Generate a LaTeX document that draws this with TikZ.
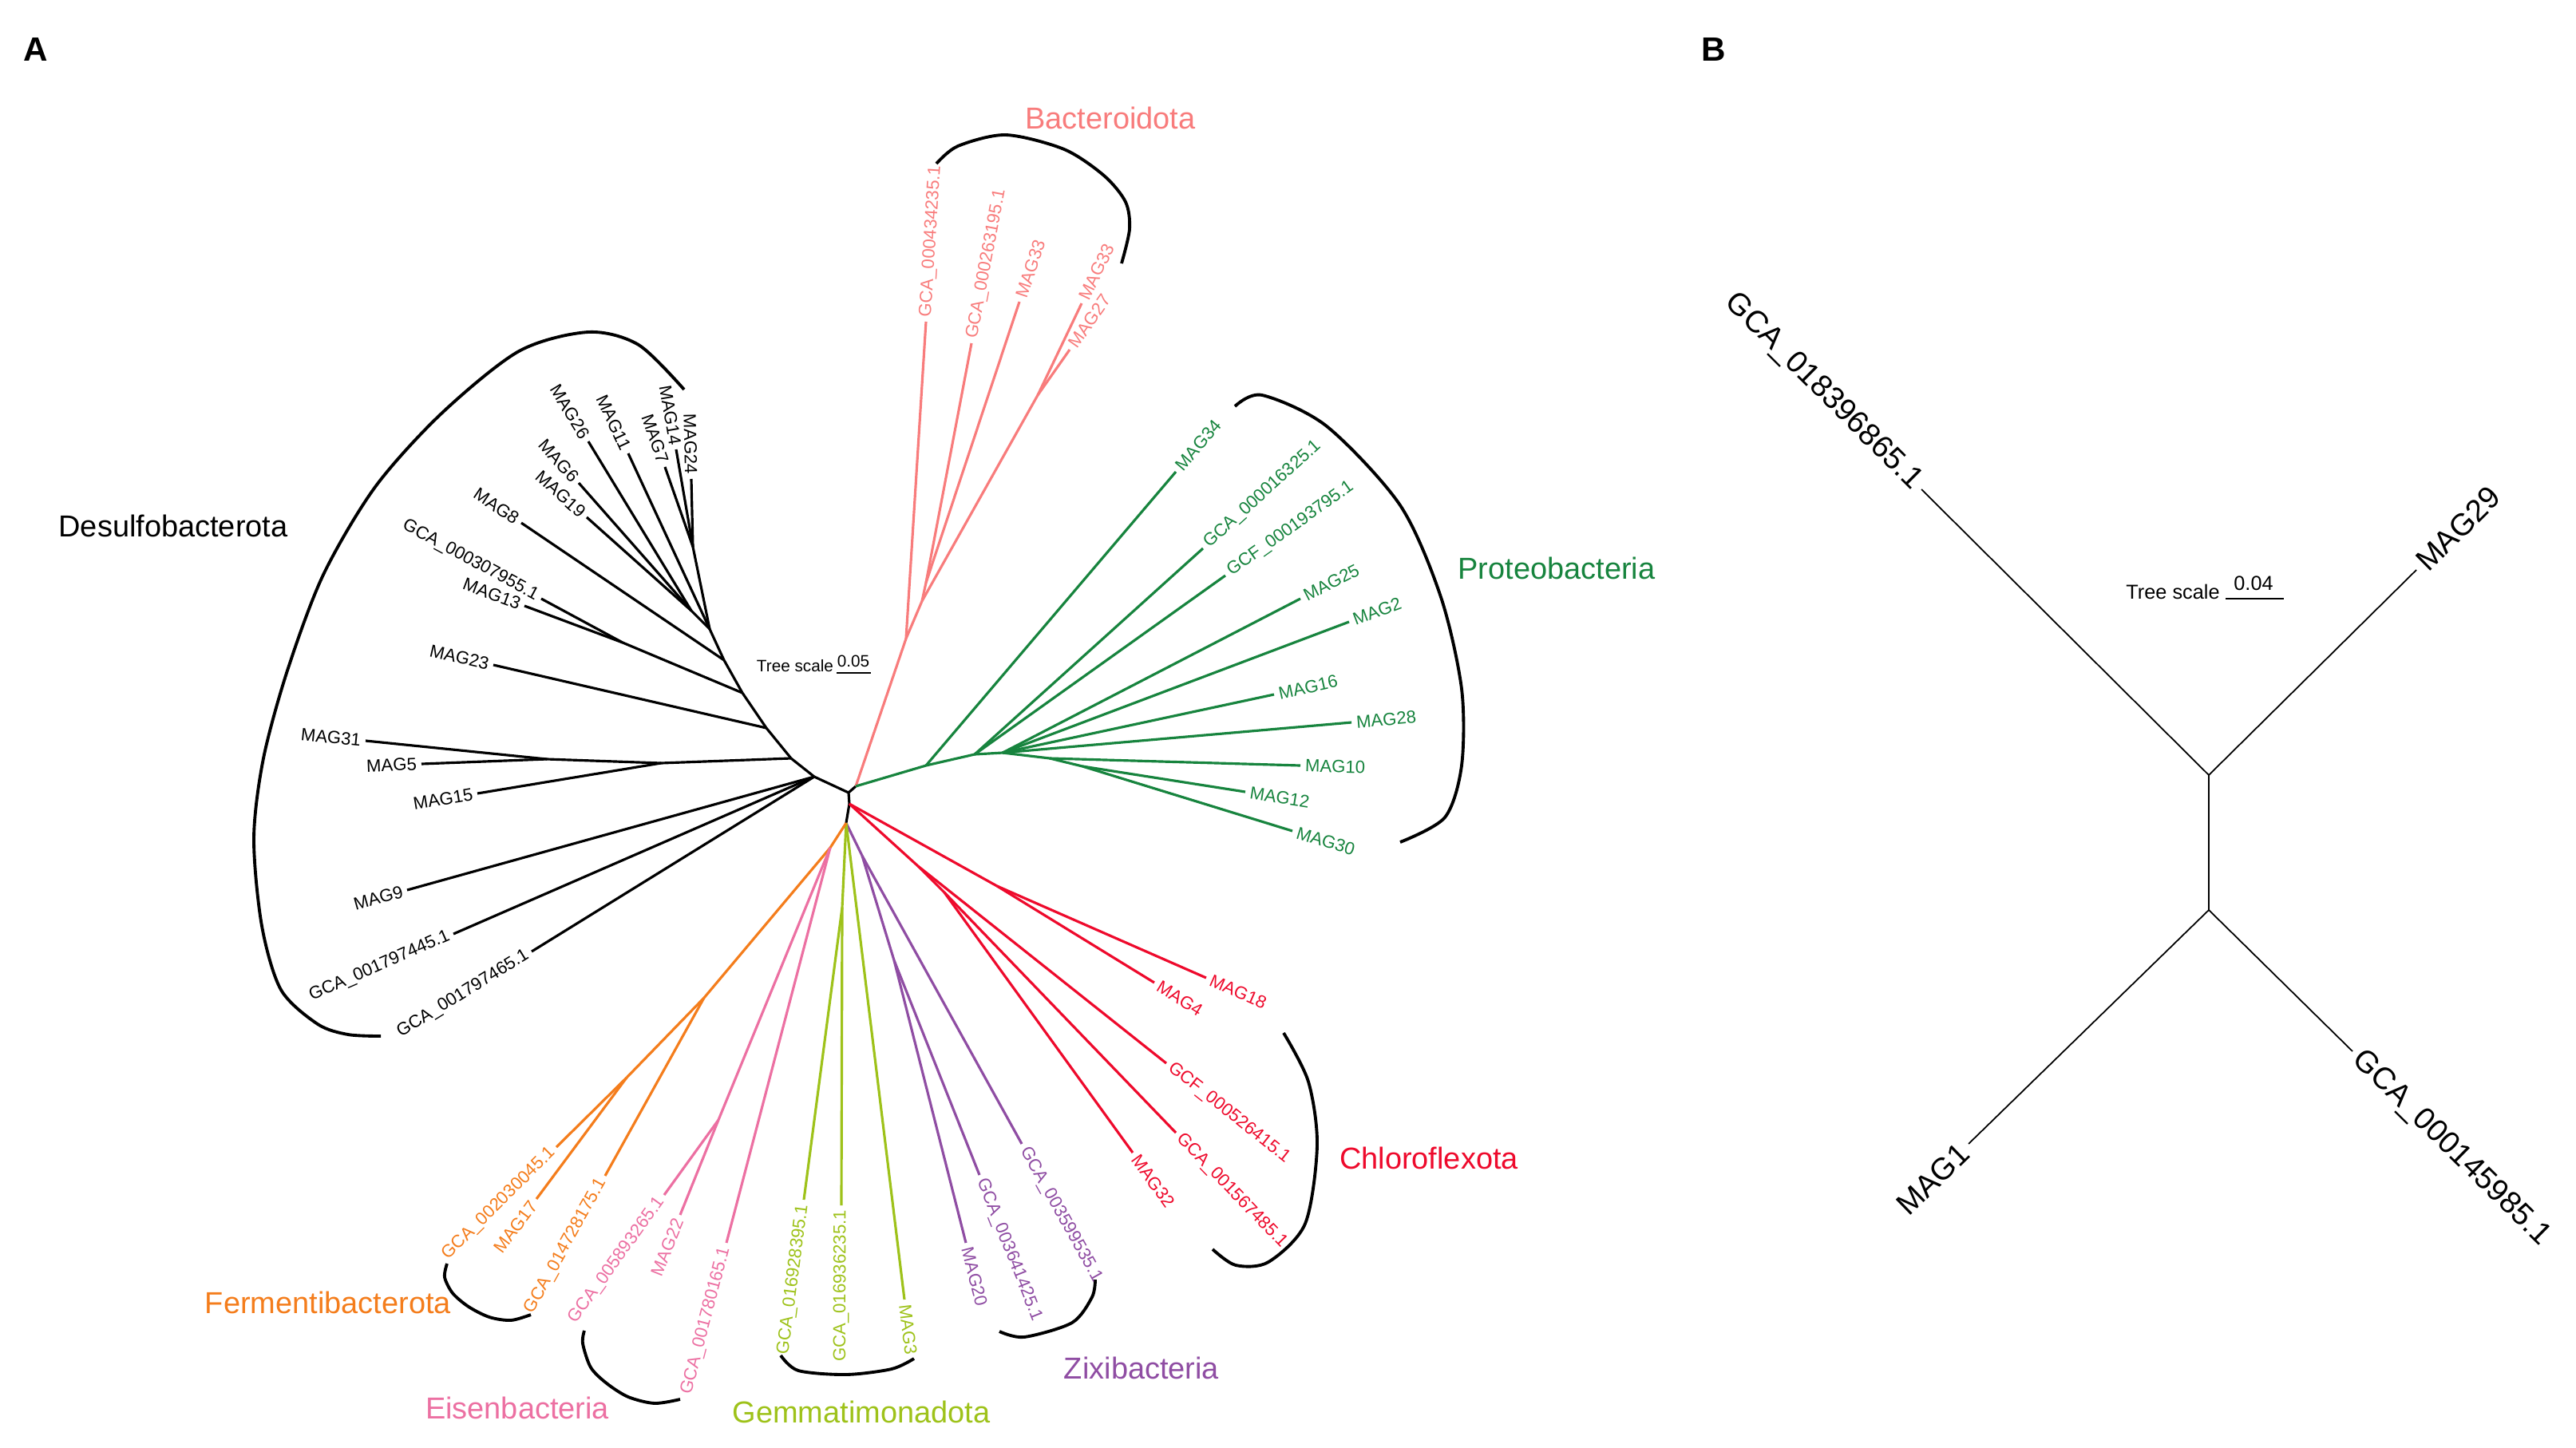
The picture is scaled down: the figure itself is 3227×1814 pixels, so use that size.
\documentclass[tikz,border=0pt]{standalone}
\usepackage{fontspec}
\setmainfont{Liberation Sans}
\usetikzlibrary{positioning}
\definecolor{cBac}{HTML}{F87C7C}
\definecolor{cPro}{HTML}{17843E}
\definecolor{cChl}{HTML}{EE0A2C}
\definecolor{cZix}{HTML}{8F4DA3}
\definecolor{cGem}{HTML}{9EC21A}
\definecolor{cEis}{HTML}{EC70A2}
\definecolor{cFer}{HTML}{F47D1C}
\newcommand{\leaffont}{\fontsize{6.3}{7.5}\selectfont}
\tikzset{k/.style={draw, line width=0.9pt, black}}
\tikzset{bac/.style={draw, line width=0.9pt, cBac}}
\tikzset{pro/.style={draw, line width=0.9pt, cPro}}
\tikzset{chl/.style={draw, line width=0.9pt, cChl}}
\tikzset{zix/.style={draw, line width=0.9pt, cZix}}
\tikzset{gem/.style={draw, line width=0.9pt, cGem}}
\tikzset{eis/.style={draw, line width=0.9pt, cEis}}
\tikzset{fer/.style={draw, line width=0.9pt, cFer}}
\tikzset{kb/.style={draw, line width=0.5pt, black}}
\tikzset{lr/.style={pos=1, sloped, anchor=west, inner sep=1.3pt, font=\leaffont}}
\tikzset{ll/.style={pos=1, sloped, anchor=east, inner sep=1.3pt, font=\leaffont}}
\tikzset{blr/.style={pos=1, sloped, anchor=west, inner sep=2pt, font=\fontsize{11}{13}\selectfont}}
\tikzset{bll/.style={pos=1, sloped, anchor=east, inner sep=2pt, font=\fontsize{11}{13}\selectfont}}
\tikzset{bkt/.style={draw, line width=1.1pt, black}}
\tikzset{clade/.style={font=\fontsize{10.8}{13}\selectfont, inner sep=0pt}}
\tikzset{plab/.style={font=\fontsize{12}{14}\selectfont\bfseries, inner sep=0pt}}

\begin{document}
\begin{tikzpicture}[x=0.1mm, y=-0.1mm]
  \useasboundingbox (0,0) rectangle (3227,1814);
  \node (pa) at (45,62) [plab] {A};
  \node (pb) at (2147,62) [plab] {B};
  %% brackets and clade names
  \draw [bkt] plot [smooth] coordinates {(857,488) (800,432) (737,416) (650,440) (553,518) (470,610) (405,720) (360,840) (330,950) (318,1050) (328,1160) (352,1240) (398,1283) (436,1296) (477,1298)};
  \draw [bkt] plot [smooth] coordinates {(1173,205) (1200,183) (1260,169) (1333,187) (1383,220) (1410,253) (1415,287) (1405,330)};
  \draw [bkt] plot [smooth] coordinates {(1547,509) (1581,495) (1662,534) (1754,633) (1805,748) (1831,863) (1831,959) (1810,1024) (1754,1055)};
  \draw [bkt] plot [smooth] coordinates {(1608,1294) (1639,1355) (1650,1435) (1635,1533) (1589,1581) (1548,1585) (1519,1565)};
  \draw [bkt] plot [smooth] coordinates {(1252,1668) (1283,1675) (1343,1657) (1368,1625) (1372,1603)};
  \draw [bkt] plot [smooth] coordinates {(978,1698) (1000,1717) (1060,1722) (1117,1715) (1145,1702)};
  \draw [bkt] plot [smooth] coordinates {(732,1667) (730,1683) (740,1713) (760,1733) (787,1750) (820,1758) (852,1753)};
  \draw [bkt] plot [smooth] coordinates {(560,1583) (557,1600) (567,1620) (587,1637) (613,1650) (640,1654) (665,1647)};
  \node (nDes) at (217,659) [clade] {Desulfobacterota};
  \node (nBac) at (1391,148) [clade, cBac] {Bacteroidota};
  \node (nPro) at (1950,712) [clade, cPro] {Proteobacteria};
  \node (nChl) at (1790,1451) [clade, cChl] {Chloroflexota};
  \node (nZix) at (1430,1714) [clade, cZix] {Zixibacteria};
  \node (nGem) at (1079,1769) [clade, cGem] {Gemmatimonadota};
  \node (nEis) at (648,1764) [clade, cEis] {Eisenbacteria};
  \node (nFer) at (411,1632) [clade, cFer] {Fermentibacterota};
  %% tree scale
  \node (tsA) at (996,834) [font=\fontsize{5.9}{7}\selectfont, inner sep=0pt] {Tree scale};
  \node (tsAv) at (1069,828) [font=\fontsize{5.9}{7}\selectfont, inner sep=0pt] {0.05};
  \coordinate (sA1) at (1048,843);
  \coordinate (sA2) at (1091,843);
  \draw [line width=0.7pt] (sA1) to (sA2);
  %% backbone
  \coordinate (J0) at (1063,993);
  \coordinate (J1) at (1072,985);
  \coordinate (J2) at (1064,1007);
  \coordinate (J3) at (1060,1031);
  \draw [k] (J0) to (J1);
  \draw [k] (J0) to (J2);
  \draw [k] (J2) to (J3);
  %% Desulfobacterota
  \coordinate (D1) at (1020,973);
  \coordinate (D2) at (991,950);
  \coordinate (D3) at (828,956);
  \coordinate (D4) at (685,951);
  \coordinate (D5) at (960,912);
  \coordinate (D6) at (930,868);
  \coordinate (D7) at (780,805);
  \coordinate (D8) at (907,827);
  \coordinate (D9) at (868,685);
  \coordinate (D10) at (889,788);
  \coordinate (D11) at (866,765);
  \coordinate (m9) at (510,1115);
  \coordinate (g445) at (568,1170);
  \coordinate (g465) at (666,1192);
  \coordinate (m15) at (598,994);
  \coordinate (m31) at (458,928);
  \coordinate (m5) at (528,957);
  \coordinate (m23) at (618,833);
  \coordinate (g955) at (678,750);
  \coordinate (m13) at (657,759);
  \coordinate (m8) at (653,655);
  \coordinate (m11) at (787,568);
  \coordinate (m24) at (866,600);
  \coordinate (m14) at (847,563);
  \coordinate (m7) at (833,585);
  \coordinate (m26) at (737,553);
  \coordinate (m6) at (725,605);
  \coordinate (m19) at (735,648);
  \draw [k] (J0) to (D1);
  \draw [k] (D1) to (D2);
  \draw [k] (D2) to (D5);
  \draw [k] (D5) to (D6);
  \draw [k] (D6) to (D8);
  \draw [k] (D8) to (D10);
  \draw [k] (D2) to (D3);
  \draw [k] (D3) to (D4);
  \draw [k] (D6) to (D7);
  \draw [k] (D10) to (D9);
  \draw [k] (D10) to (D11);
  \draw [k] (D1) to node [ll] (tm9) {MAG9} (m9);
  \draw [k] (D1) to node [ll] (tg445) {GCA\_001797445.1} (g445);
  \draw [k] (D1) to node [ll] (tg465) {GCA\_001797465.1} (g465);
  \draw [k] (D3) to node [ll] (tm15) {MAG15} (m15);
  \draw [k] (D4) to node [ll] (tm31) {MAG31} (m31);
  \draw [k] (D4) to node [ll] (tm5) {MAG5} (m5);
  \draw [k] (D5) to node [ll] (tm23) {MAG23} (m23);
  \draw [k] (D7) to node [ll] (tg955) {GCA\_000307955.1} (g955);
  \draw [k] (D7) to node [ll] (tm13) {MAG13} (m13);
  \draw [k] (D8) to node [ll] (tm8) {MAG8} (m8);
  \draw [k] (D10) to node [ll] (tm11) {MAG11} (m11);
  \draw [k] (D9) to node [ll] (tm24) {MAG24} (m24);
  \draw [k] (D9) to node [ll] (tm14) {MAG14} (m14);
  \draw [k] (D9) to node [ll] (tm7) {MAG7} (m7);
  \draw [k] (D11) to node [ll] (tm26) {MAG26} (m26);
  \draw [k] (D11) to node [ll] (tm6) {MAG6} (m6);
  \draw [k] (D11) to node [ll] (tm19) {MAG19} (m19);
  %% Bacteroidota
  \coordinate (P1) at (1135,800);
  \coordinate (P2) at (1155,753);
  \coordinate (P3) at (1160,730);
  \coordinate (P4) at (1300,495);
  \coordinate (b235) at (1160,403);
  \coordinate (b195) at (1217,430);
  \coordinate (m33a) at (1277,378);
  \coordinate (m33b) at (1355,380);
  \coordinate (m27) at (1340,438);
  \draw [bac] (J1) to (P1);
  \draw [bac] (P1) to (P2);
  \draw [bac] (P2) to (P3);
  \draw [bac] (P2) to (P4);
  \draw [bac] (P1) to node [lr] (tb235) {GCA\_000434235.1} (b235);
  \draw [bac] (P3) to node [lr] (tb195) {GCA\_000263195.1} (b195);
  \draw [bac] (P3) to node [lr] (tm33a) {MAG33} (m33a);
  \draw [bac] (P4) to node [lr] (tm33b) {MAG33} (m33b);
  \draw [bac] (P4) to node [lr] (tm27) {MAG27} (m27);
  %% Proteobacteria
  \coordinate (G1) at (1160,959);
  \coordinate (G2) at (1221,945);
  \coordinate (G3) at (1256,943);
  \coordinate (G4) at (1315,950);
  \coordinate (G5) at (1356,960);
  \coordinate (m34) at (1473,591);
  \coordinate (g325) at (1507,687);
  \coordinate (g795) at (1535,721);
  \coordinate (m25) at (1629,750);
  \coordinate (m2) at (1690,779);
  \coordinate (m16) at (1596,870);
  \coordinate (m28) at (1693,905);
  \coordinate (m10) at (1629,959);
  \coordinate (m12) at (1560,992);
  \coordinate (m30) at (1619,1041);
  \draw [pro] (J1) to (G1);
  \draw [pro] (G1) to (G2);
  \draw [pro] (G2) to (G3);
  \draw [pro] (G3) to (G4);
  \draw [pro] (G4) to (G5);
  \draw [pro] (G1) to node [lr] (tm34) {MAG34} (m34);
  \draw [pro] (G2) to node [lr] (tg325) {GCA\_000016325.1} (g325);
  \draw [pro] (G2) to node [lr] (tg795) {GCF\_000193795.1} (g795);
  \draw [pro] (G3) to node [lr] (tm25) {MAG25} (m25);
  \draw [pro] (G3) to node [lr] (tm2) {MAG2} (m2);
  \draw [pro] (G3) to node [lr] (tm16) {MAG16} (m16);
  \draw [pro] (G3) to node [lr] (tm28) {MAG28} (m28);
  \draw [pro] (G4) to node [lr] (tm10) {MAG10} (m10);
  \draw [pro] (G5) to node [lr] (tm12) {MAG12} (m12);
  \draw [pro] (G5) to node [lr] (tm30) {MAG30} (m30);
  %% Chloroflexota
  \coordinate (R1) at (1150,1085);
  \coordinate (R2) at (1249,1110);
  \coordinate (R3) at (1183,1118);
  \coordinate (m18) at (1511,1225);
  \coordinate (m4) at (1446,1231);
  \coordinate (g415) at (1461,1332);
  \coordinate (g485) at (1473,1419);
  \coordinate (m32) at (1419,1444);
  \draw [chl] (J2) to (R1);
  \draw [chl] (J2) to (R2);
  \draw [chl] (R1) to (R3);
  \draw [chl] (R2) to node [lr] (tm18) {MAG18} (m18);
  \draw [chl] (R2) to node [lr] (tm4) {MAG4} (m4);
  \draw [chl] (R1) to node [lr] (tg415) {GCF\_000526415.1} (g415);
  \draw [chl] (R3) to node [lr] (tg485) {GCA\_001567485.1} (g485);
  \draw [chl] (R3) to node [lr] (tm32) {MAG32} (m32);
  %% Zixibacteria
  \coordinate (Z0) at (1080,1072);
  \coordinate (Z1) at (1120,1203);
  \coordinate (g535) at (1280,1433);
  \coordinate (g425) at (1227,1472);
  \coordinate (m20) at (1210,1557);
  \draw [zix] (J3) to (Z0);
  \draw [zix] (Z0) to (Z1);
  \draw [zix] (Z0) to node [lr] (tg535) {GCA\_003599535.1} (g535);
  \draw [zix] (Z1) to node [lr] (tg425) {GCA\_003641425.1} (g425);
  \draw [zix] (Z1) to node [lr] (tm20) {MAG20} (m20);
  %% Gemmatimonadota
  \coordinate (Y1) at (1055,1137);
  \coordinate (g395) at (1007,1503);
  \coordinate (g235) at (1054,1510);
  \coordinate (m3) at (1133,1628);
  \draw [gem] (J3) to (Y1);
  \draw [gem] (Y1) to node [ll] (tg395) {GCA\_016928395.1} (g395);
  \draw [gem] (Y1) to node [ll] (tg235) {GCA\_016936235.1} (g235);
  \draw [gem] (J3) to node [lr] (tm3) {MAG3} (m3);
  %% Fermentibacterota and Eisenbacteria
  \coordinate (O0) at (1040,1062);
  \coordinate (F1) at (882,1250);
  \coordinate (F2) at (785,1350);
  \coordinate (E1) at (900,1403);
  \coordinate (g045) at (697,1437);
  \coordinate (m17) at (672,1502);
  \coordinate (g175) at (758,1473);
  \coordinate (g265) at (832,1497);
  \coordinate (m22) at (852,1522);
  \coordinate (g165) at (910,1557);
  \draw [fer] (J3) to (O0);
  \draw [fer] (O0) to (F1);
  \draw [fer] (F1) to (F2);
  \draw [fer] (F2) to node [ll] (tg045) {GCA\_002030045.1} (g045);
  \draw [fer] (F2) to node [ll] (tm17) {MAG17} (m17);
  \draw [fer] (F1) to node [ll] (tg175) {GCA\_014728175.1} (g175);
  \draw [eis] (O0) to (E1);
  \draw [eis] (E1) to node [ll] (tg265) {GCA\_005893265.1} (g265);
  \draw [eis] (E1) to node [ll] (tm22) {MAG22} (m22);
  \draw [eis] (O0) to node [ll] (tg165) {GCA\_001780165.1} (g165);
  %% panel B
  \coordinate (N1) at (2767,971);
  \coordinate (N2) at (2767,1140);
  \coordinate (g865) at (2407,613);
  \coordinate (m29) at (3027,714);
  \coordinate (m1) at (2466,1433);
  \coordinate (g985) at (2947,1317);
  \draw [kb] (N1) to (N2);
  \draw [kb] (N1) to node [bll] (tg865) {GCA\_018396865.1} (g865);
  \draw [kb] (N1) to node [blr] (tm29) {MAG29} (m29);
  \draw [kb] (N2) to node [bll] (tm1) {MAG1} (m1);
  \draw [kb] (N2) to node [blr] (tg985) {GCA\_000145985.1} (g985);
  \node (tsB) at (2722,741) [font=\fontsize{7.2}{9}\selectfont, inner sep=0pt] {Tree scale};
  \node (tsBv) at (2823,731) [font=\fontsize{7.2}{9}\selectfont, inner sep=0pt] {0.04};
  \coordinate (sB1) at (2788,750);
  \coordinate (sB2) at (2861,750);
  \draw [line width=0.6pt] (sB1) to (sB2);
\end{tikzpicture}
\end{document}
